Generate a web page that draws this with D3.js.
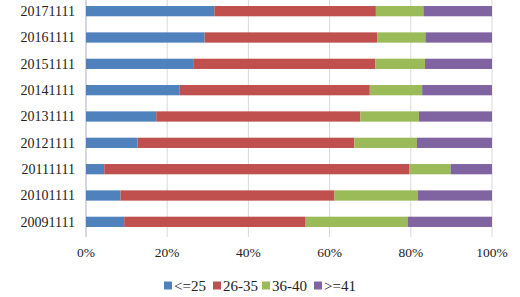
<!DOCTYPE html>
<html>
<head>
<meta charset="utf-8">
<script src="https://cdn.jsdelivr.net/npm/d3@7"></script>
<style>
  body { margin: 0; background: #fff; }
  svg { display: block; font-family: "Liberation Serif", "Times New Roman", serif; }
</style>
</head>
<body>
<svg id="chart"></svg>
<script>
// categories, top to bottom as drawn
const dates = ["20171111", "20161111", "20151111", "20141111", "20131111",
               "20121111", "20111111", "20101111", "20091111"];
const groups = ["<=25", "26-35", "36-40", ">=41"];
const colors = ["#4f81bd", "#c0504d", "#9bbb59", "#8064a2"];

// share (%) per age group, same order as dates
const le25  = [31.6, 29.2, 26.4, 23.1, 17.3, 12.7, 4.5, 8.5, 9.4];
const a2635 = [39.8, 42.5, 44.9, 46.8, 50.3, 53.4, 75.2, 52.7, 44.7];
const a3640 = [11.7, 11.9, 12.2, 12.9, 14.4, 15.4, 10.1, 20.5, 25.1];
const ge41  = [16.9, 16.4, 16.5, 17.2, 18.0, 18.5, 10.2, 18.3, 20.8];

const xTicks = [0, 20, 40, 60, 80, 100];

const width = 520, height = 297;
const margin = { top: -2, right: 28, bottom: 62, left: 86 };

const rows = dates.map((d, i) => ({
  date: d, "<=25": le25[i], "26-35": a2635[i], "36-40": a3640[i], ">=41": ge41[i]
}));

const svg = d3.select("#chart")
    .attr("width", width)
    .attr("height", height)

const x = d3.scaleLinear().domain([0, 100]).range([margin.left, width - margin.right]);
const y = d3.scaleBand().domain(dates)
    .range([margin.top, height - margin.bottom])
    .paddingInner(0.61).paddingOuter(0.305);
const color = d3.scaleOrdinal().domain(groups).range(colors);

// vertical gridlines
svg.append("g")
    .selectAll("line")
    .data(xTicks)
    .join("line")
    .attr("x1", d => x(d)).attr("x2", d => x(d))
    .attr("y1", 0).attr("y2", height - margin.bottom + 2)
    .attr("stroke", "#d9d9d9")
    .attr("stroke-width", 1);

// left axis line
svg.append("line")
    .attr("x1", x(0)).attr("x2", x(0))
    .attr("y1", 0).attr("y2", height - margin.bottom + 2)
    .attr("stroke", "#b8c4d4");

const stack = d3.stack().keys(groups)(rows);

svg.append("g")
    .selectAll("g")
    .data(stack)
    .join("g")
    .attr("fill", d => color(d.key))
    .selectAll("rect")
    .data(d => d)
    .join("rect")
    .attr("x", d => x(d[0]))
    .attr("width", d => x(d[1]) - x(d[0]))
    .attr("y", d => y(d.data.date))
    .attr("height", y.bandwidth());

// category labels
svg.append("g")
    .selectAll("text")
    .data(dates)
    .join("text")
    .attr("x", x(0) - 11)
    .attr("y", d => y(d) + y.bandwidth() / 2)
    .attr("dy", "0.35em")
    .attr("text-anchor", "end")
    .attr("font-size", 14)
    .attr("fill", "#222")
    .text(d => d);

// x tick labels
svg.append("g")
    .selectAll("text")
    .data(xTicks)
    .join("text")
    .attr("x", d => x(d))
    .attr("y", 257)
    .attr("text-anchor", "middle")
    .attr("font-size", 13.5)
    .attr("fill", "#222")
    .text(d => d + "%");

// legend
const legendX = [164, 213, 262, 314];
const legend = svg.append("g")
    .selectAll("g")
    .data(groups)
    .join("g")
    .attr("transform", (d, i) => `translate(${legendX[i]},285.5)`);

legend.append("rect")
    .attr("x", 0).attr("y", -4)
    .attr("width", 8).attr("height", 8)
    .attr("fill", d => color(d));

legend.append("text")
    .attr("x", 10)
    .attr("dy", "0.35em")
    .attr("font-size", 15)
    .attr("fill", "#222")
    .text(d => d);
</script>
</body>
</html>
